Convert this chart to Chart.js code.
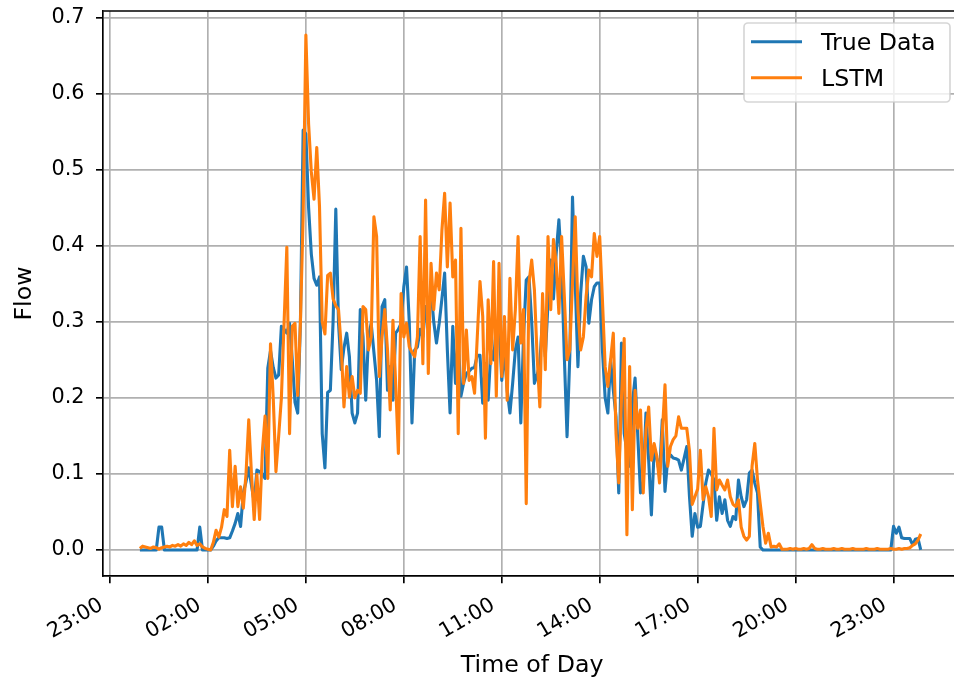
<!DOCTYPE html>
<html>
<head>
<meta charset="utf-8">
<title>Flow: True Data vs LSTM</title>
<script src="https://cdn.jsdelivr.net/npm/chart.js@4.4.1/dist/chart.umd.min.js"></script>
<style>
  html, body { margin: 0; padding: 0; background: #fff; overflow: hidden; }
  #wrap { width: 954px; height: 681px; overflow: hidden; }
  #flowChart { width: 968px; height: 681px; display: block; }
</style>
</head>
<body>
<div id="wrap"><canvas id="flowChart" width="968" height="681"></canvas></div>
<script>
// 5-minute samples, minutes relative to midnight (first sample is 23:55 the day before)
const sampleCount = 288;
const timeMinutes = Array.from({ length: sampleCount }, (_, i) => -5 + 5 * i);

const trueFlow = [
    0, 0, 0, 0, 0, 0, 0, 0.03, 0.03, 0,
    0, 0, 0, 0, 0, 0, 0, 0, 0, 0,
    0, 0, 0.03, 0, 0, 0, 0, 0.005, 0.012, 0.016,
    0.016, 0.016, 0.015, 0.016, 0.025, 0.035, 0.048, 0.031, 0.075, 0.09,
    0.108, 0.085, 0.063, 0.105, 0.103, 0.1, 0.094, 0.239, 0.262, 0.24,
    0.226, 0.23, 0.294, 0.29, 0.285, 0.298, 0.25, 0.194, 0.18, 0.3,
    0.552, 0.547, 0.45, 0.389, 0.357, 0.348, 0.359, 0.153, 0.108, 0.207,
    0.21, 0.3, 0.448, 0.298, 0.237, 0.266, 0.285, 0.254, 0.18, 0.167,
    0.18, 0.316, 0.28, 0.197, 0.28, 0.298, 0.26, 0.223, 0.149, 0.32,
    0.329, 0.21, 0.241, 0.197, 0.285, 0.29, 0.298, 0.346, 0.372, 0.3,
    0.167, 0.263, 0.267, 0.29, 0.28, 0.32, 0.31, 0.342, 0.3, 0.272,
    0.298, 0.33, 0.364, 0.263, 0.18, 0.294, 0.219, 0.28, 0.202, 0.22,
    0.232, 0.235, 0.239, 0.24, 0.256, 0.256, 0.193, 0.245, 0.197, 0.263,
    0.25, 0.294, 0.3, 0.223, 0.263, 0.21, 0.18, 0.219, 0.263, 0.28,
    0.167, 0.28, 0.355, 0.359, 0.3, 0.219, 0.23, 0.245, 0.307, 0.254,
    0.324, 0.381, 0.33, 0.39, 0.434, 0.372, 0.254, 0.149, 0.254, 0.464,
    0.351, 0.241, 0.337, 0.386, 0.372, 0.298, 0.329, 0.346, 0.351, 0.351,
    0.263, 0.2, 0.18, 0.25, 0.21, 0.175, 0.075, 0.272, 0.153, 0.13,
    0.11, 0.193, 0.226, 0.15, 0.075, 0.09, 0.18, 0.118, 0.046, 0.131,
    0.12, 0.1, 0.171, 0.077, 0.12, 0.125, 0.121, 0.12, 0.118, 0.105,
    0.12, 0.136, 0.07, 0.018, 0.048, 0.03, 0.031, 0.06, 0.088, 0.105,
    0.1, 0.092, 0.039, 0.07, 0.048, 0.066, 0.039, 0.031, 0.044, 0.04,
    0.092, 0.07, 0.057, 0.066, 0.101, 0.105, 0.088, 0.075, 0.004, 0,
    0, 0, 0, 0, 0, 0, 0, 0, 0, 0,
    0, 0, 0, 0, 0, 0, 0, 0, 0, 0,
    0, 0, 0, 0, 0, 0, 0, 0, 0, 0,
    0, 0, 0, 0, 0, 0, 0, 0, 0, 0,
    0, 0, 0, 0, 0, 0, 0, 0.031, 0.022, 0.03,
    0.016, 0.015, 0.015, 0.015, 0.007, 0.014, 0.015, 0
];

const lstmFlow = [
    0.002, 0.005, 0.004, 0.003, 0.002, 0.004, 0.003, 0.001, 0.003, 0.004,
    0.005, 0.004, 0.006, 0.005, 0.007, 0.005, 0.008, 0.006, 0.01, 0.007,
    0.012, 0.006, 0.008, 0.004, 0.002, 0.001, 0, 0.01, 0.026, 0.017,
    0.03, 0.053, 0.044, 0.131, 0.057, 0.11, 0.057, 0.083, 0.055, 0.1,
    0.171, 0.1, 0.04, 0.099, 0.04, 0.13, 0.176, 0.094, 0.271, 0.2,
    0.103, 0.15, 0.2, 0.3, 0.398, 0.153, 0.294, 0.298, 0.203, 0.3,
    0.44, 0.677, 0.56, 0.497, 0.461, 0.529, 0.452, 0.3, 0.284, 0.361,
    0.364, 0.33, 0.321, 0.316, 0.266, 0.188, 0.241, 0.201, 0.228, 0.2,
    0.21, 0.206, 0.32, 0.316, 0.263, 0.28, 0.438, 0.412, 0.228, 0.28,
    0.316, 0.263, 0.184, 0.302, 0.219, 0.127, 0.337, 0.28, 0.298, 0.267,
    0.26, 0.254, 0.28, 0.412, 0.245, 0.46, 0.232, 0.377, 0.316, 0.364,
    0.342, 0.42, 0.469, 0.372, 0.456, 0.359, 0.381, 0.153, 0.423, 0.219,
    0.289, 0.223, 0.228, 0.206, 0.28, 0.353, 0.307, 0.147, 0.329, 0.245,
    0.379, 0.202, 0.377, 0.228, 0.307, 0.197, 0.357, 0.263, 0.316, 0.412,
    0.272, 0.316, 0.061, 0.351, 0.381, 0.342, 0.254, 0.188, 0.337, 0.237,
    0.412, 0.316, 0.408, 0.377, 0.311, 0.412, 0.333, 0.25, 0.263, 0.351,
    0.438, 0.316, 0.263, 0.28, 0.333, 0.368, 0.359, 0.416, 0.386, 0.412,
    0.329, 0.241, 0.215, 0.25, 0.285, 0.153, 0.088, 0.2, 0.278, 0.02,
    0.241, 0.053, 0.21, 0.16, 0.184, 0.075, 0.158, 0.188, 0.118, 0.14,
    0.123, 0.088, 0.153, 0.217, 0.11, 0.136, 0.145, 0.15, 0.175, 0.16,
    0.16, 0.16, 0.13, 0.06, 0.07, 0.08, 0.131, 0.066, 0.083, 0.07,
    0.044, 0.16, 0.079, 0.092, 0.085, 0.079, 0.092, 0.07, 0.06, 0.057,
    0.066, 0.03, 0.018, 0.013, 0.018, 0.11, 0.14, 0.092, 0.061, 0.031,
    0.009, 0.022, 0.004, 0.005, 0.004, 0.008, 0.001, 0.001, 0.001, 0.002,
    0.001, 0.002, 0.001, 0.001, 0.002, 0.001, 0.002, 0.007, 0.002, 0.001,
    0.001, 0.002, 0.001, 0.001, 0.001, 0.002, 0.001, 0.001, 0.002, 0.001,
    0.001, 0.001, 0.002, 0.001, 0.001, 0.001, 0.001, 0.002, 0.001, 0.001,
    0.001, 0.002, 0.001, 0.001, 0.001, 0.001, 0.002, 0.001, 0.001, 0.002,
    0.001, 0.002, 0.002, 0.003, 0.006, 0.008, 0.013, 0.021
];

// tick positions: every 3 hours starting at 23:00 the previous day
const xTickMinutes = [-60, 120, 300, 480, 660, 840, 1020, 1200, 1380];
const yTickValues = [0, 0.1, 0.2, 0.3, 0.4, 0.5, 0.6, 0.7];

const FONT = 'DejaVu Sans';
const TICK_SIZE = 20.8;
const LABEL_SIZE = 23.7;

function toClock(minutes) {
    const m = ((minutes % 1440) + 1440) % 1440;
    const hh = String(Math.floor(m / 60)).padStart(2, '0');
    const mm = String(m % 60).padStart(2, '0');
    return `${hh}:${mm}`;
}

function toPoints(values) {
    return values.map((v, i) => ({ x: timeMinutes[i], y: v }));
}

// top/right spines and a matplotlib-like legend box inside the plot
const frameAndLegend = {
    id: 'frameAndLegend',
    afterDraw(chart) {
        const { ctx, chartArea } = chart;
        ctx.save();
        ctx.strokeStyle = '#000';
        ctx.lineWidth = 1.67;
        ctx.beginPath();
        ctx.moveTo(chartArea.left, chartArea.top);
        ctx.lineTo(chartArea.right, chartArea.top);
        ctx.lineTo(chartArea.right, chartArea.bottom);
        ctx.stroke();

        const box = { x: 744, y: 23, w: 206, h: 79, r: 4 };
        ctx.beginPath();
        ctx.roundRect(box.x, box.y, box.w, box.h, box.r);
        ctx.fillStyle = 'rgba(255, 255, 255, 0.8)';
        ctx.fill();
        ctx.strokeStyle = 'rgba(204, 204, 204, 0.8)';
        ctx.lineWidth = 1.67;
        ctx.stroke();

        const rows = [41.7, 77.7];
        ctx.font = `${LABEL_SIZE}px "${FONT}"`;
        ctx.textBaseline = 'alphabetic';
        ctx.textAlign = 'left';
        chart.data.datasets.forEach((ds, k) => {
            const y = rows[k];
            ctx.strokeStyle = ds.borderColor;
            ctx.lineWidth = 3.1;
            ctx.lineCap = 'butt';
            ctx.beginPath();
            ctx.moveTo(751, y);
            ctx.lineTo(802, y);
            ctx.stroke();
            ctx.fillStyle = '#000';
            ctx.fillText(ds.label, 821, y + 8.4);
        });
        ctx.restore();
    }
};

const ctx = document.getElementById('flowChart').getContext('2d');

const flowChart = new Chart(ctx, {
    type: 'line',
    data: {
        datasets: [
            {
                label: 'True Data',
                data: toPoints(trueFlow),
                borderColor: '#1f77b4',
                borderWidth: 3.1,
                pointRadius: 0,
                tension: 0,
                borderJoinStyle: 'round',
                order: 2
            },
            {
                label: 'LSTM',
                data: toPoints(lstmFlow),
                borderColor: '#ff7f0e',
                borderWidth: 3.1,
                pointRadius: 0,
                tension: 0,
                borderJoinStyle: 'round',
                order: 1
            }
        ]
    },
    options: {
        responsive: false,
        animation: false,
        devicePixelRatio: 1,
        layout: {
            padding: { top: 11, right: 7, left: 0, bottom: 0 }
        },
        plugins: {
            legend: { display: false },
            tooltip: { enabled: false }
        },
        scales: {
            x: {
                type: 'linear',
                min: -72.3,
                max: 1504,
                afterBuildTicks: (scale) => {
                    scale.ticks = xTickMinutes.map(v => ({ value: v }));
                },
                afterFit: (scale) => {
                    scale.height = 105;
                    scale.paddingLeft = 0;
                    scale.paddingRight = 0;
                },
                ticks: {
                    autoSkip: false,
                    minRotation: 30,
                    maxRotation: 30,
                    padding: 9.5,
                    labelOffset: -8.5,
                    color: '#000',
                    font: { family: FONT, size: TICK_SIZE },
                    callback: (value) => toClock(value)
                },
                grid: {
                    color: '#b0b0b0',
                    lineWidth: 1.67,
                    tickColor: '#000',
                    tickLength: 7.3,
                    tickWidth: 1.67
                },
                border: { display: true, color: '#000', width: 1.67 },
                title: {
                    display: true,
                    text: 'Time of Day',
                    color: '#000',
                    font: { family: FONT, size: LABEL_SIZE },
                    padding: { top: 0, bottom: 0.8 }
                }
            },
            y: {
                type: 'linear',
                min: -0.0342,
                max: 0.7085,
                afterBuildTicks: (scale) => {
                    scale.ticks = yTickValues.map(v => ({ value: v }));
                },
                afterFit: (scale) => {
                    scale.width = 103.3;
                    scale.paddingTop = 0;
                    scale.paddingBottom = 0;
                },
                ticks: {
                    padding: 11.5,
                    color: '#000',
                    font: { family: FONT, size: TICK_SIZE },
                    callback: (value) => value.toFixed(1)
                },
                grid: {
                    color: '#b0b0b0',
                    lineWidth: 1.67,
                    tickColor: '#000',
                    tickLength: 7.3,
                    tickWidth: 1.67
                },
                border: { display: true, color: '#000', width: 1.67 },
                title: {
                    display: true,
                    text: 'Flow',
                    color: '#000',
                    font: { family: FONT, size: LABEL_SIZE },
                    padding: { top: 10.6, bottom: 0 }
                }
            }
        }
    },
    plugins: [frameAndLegend]
});
</script>
</body>
</html>
